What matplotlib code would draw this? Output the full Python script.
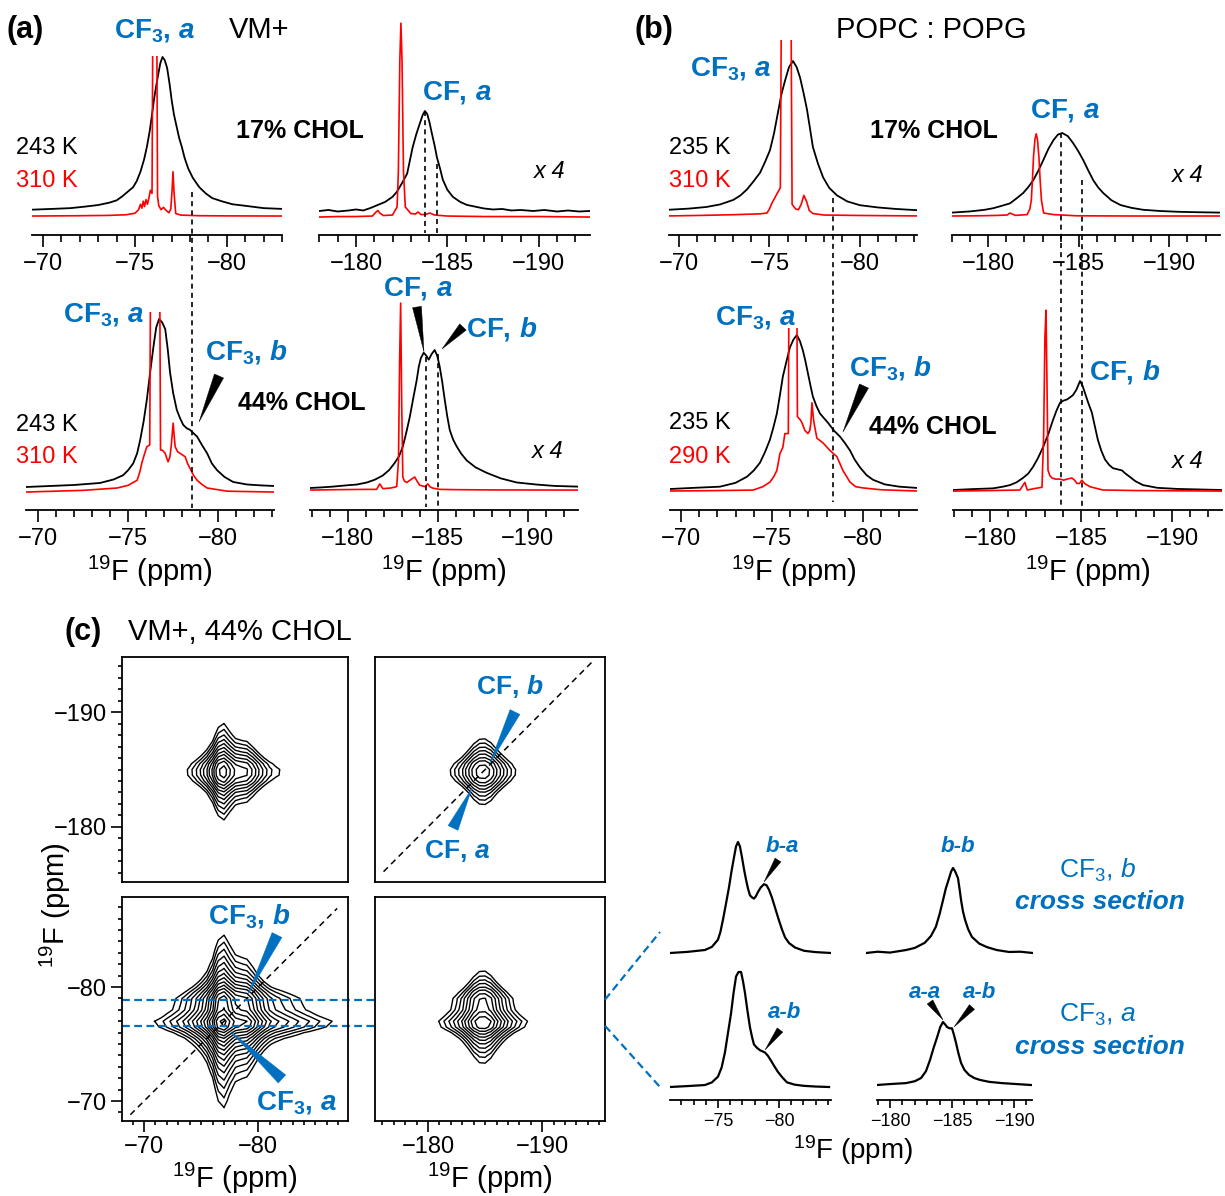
import numpy as np
import matplotlib
matplotlib.use("Agg")
import matplotlib.pyplot as plt
import matplotlib.transforms as mtransforms
from matplotlib.ticker import MultipleLocator, FixedLocator, NullLocator
from matplotlib.patches import Polygon

# ====================== DATA ======================
# ---- (a) VM+, 17% CHOL, CF3 region ----
a17_cf3_243K_ppm = [-69.4, -70.5, -71.5, -72.3, -73.0, -73.6, -74.0, -74.3, -74.6, -74.9, -75.1, -75.3, -75.5, -75.65,
                    -75.8, -75.92, -76.03, -76.15, -76.27, -76.38, -76.5, -76.62, -76.75, -76.88, -77.0, -77.12,
                    -77.25, -77.4, -77.55, -77.7, -77.9, -78.15, -78.5, -78.85, -79.2, -79.7, -80.3, -81.0, -82.0, -83.0]
a17_cf3_243K_int = [1.5, 2, 2.5, 3.5, 4.5, 6, 7.5, 10, 13, 16, 20, 26, 34, 42, 52, 62, 72, 81, 89, 96, 100, 98, 93, 83,
                    72, 63, 56, 48, 42, 35, 28, 22, 16, 12, 9, 7, 5, 4, 2.5, 2]
a17_cf3_310K_ppm = [-69.4, -72.0, -73.5, -74.5, -75.0, -75.2, -75.3, -75.38, -75.45, -75.52, -75.6, -75.68, -75.76,
                    -75.84, -75.93, -76.08, -76.23, -76.3, -76.42, -76.55, -76.7, -76.85, -76.95, -77.02, -77.07,
                    -77.13, -77.22, -77.5, -78.5, -80.0, -83.0]
a17_cf3_310K_int = [-2.6, -2.4, -2.2, -1.8, -0.8, 1.5, 5, 2.5, 7, 3.5, 8, 5, 9, 14, 12, 400, 10, 4, 1.5, 3, 1,
                    -0.5, 2, 14, 26, 12, -1, -2, -2.4, -2.5, -2.6]

# ---- (a) VM+, 17% CHOL, CF region (x4) ----
a17_cf_243K_ppm = [-178.0, -178.5, -179.0, -179.6, -180.0, -180.4, -180.8, -181.2, -181.6, -182.0, -182.24, -182.5,
                   -182.8, -183.1, -183.3, -183.5, -183.65, -183.77, -183.9, -184.02, -184.15, -184.3, -184.43,
                   -184.6, -184.75, -185.0, -185.3, -185.7, -186.07, -186.6, -187.0, -187.5, -188.0, -188.5, -189.0,
                   -189.7, -190.3, -191.0, -191.6, -192.2, -192.8]
a17_cf_243K_int = [1, 2, 0.5, 1.5, 2.5, 1.5, 4, 7, 10, 15, 20, 28, 38, 64, 77, 88, 96, 100, 97, 89, 78, 66, 54, 43,
                   32, 22, 15, 10, 7, 5, 3.5, 2.5, 3, 1.5, 2, 1, 2, 0.5, 1.5, 0.5, 1]
a17_cf_310K_ppm = [-178.0, -179.0, -180.0, -180.9, -181.1, -181.2, -181.3, -181.5, -182.0, -182.25, -182.32, -182.4,
                   -182.46, -182.52, -182.6, -182.7, -183.0, -183.25, -183.4, -183.55, -183.8, -184.04, -184.3,
                   -185.0, -187.0, -190.0, -192.8]
a17_cf_310K_int = [-5, -4.5, -4.5, -4, 0, 1.5, -1, -3.5, -3, 5, 40, 150, 187, 150, 40, 5, -1.5, -2, 0, -2.5, -2.5,
                   -1, -3, -4, -4.5, -4.5, -5]

# ---- (a) VM+, 44% CHOL, CF3 region ----
a44_cf3_243K_ppm = [-69.33, -70.67, -72.0, -73.44, -74.2, -74.72, -75.0, -75.28, -75.5, -75.67, -75.86, -76.04, -76.22,
                    -76.4, -76.56, -76.72, -76.89, -77.06, -77.2, -77.33, -77.5, -77.7, -77.88, -78.06, -78.25, -78.44,
                    -78.63, -78.83, -79.1, -79.39, -79.65, -79.94, -80.35, -80.83, -81.6, -82.3, -83.1]
a44_cf3_243K_int = [0, 0.6, 1.2, 2.4, 4.5, 7, 10, 14, 20, 28, 39, 52, 68, 83, 95, 100, 98, 94, 82, 68, 56, 46, 41, 37,
                    35, 34, 32, 30, 25, 20, 14, 10, 6, 3, 1.5, 1, 0.6]
a44_cf3_310K_ppm = [-69.33, -72.5, -74.39, -75.0, -75.5, -75.65, -75.78, -75.92, -76.04, -76.2, -76.5, -76.8, -76.89,
                    -76.98, -77.06, -77.15, -77.22, -77.32, -77.39, -77.5, -77.61, -77.75, -77.89, -78.03, -78.17,
                    -78.3, -78.44, -78.63, -78.83, -79.1, -79.39, -80.5, -83.1]
a44_cf3_310K_int = [-3, -2, -0.6, 1, 4, 9, 15, 20, 24, 25, 700, 22, 22, 21, 20, 17, 15, 18, 24, 38, 24, 21, 20, 19,
                    18, 14, 11, 7, 4, 1.5, -0.6, -2.5, -3]

# ---- (a) VM+, 44% CHOL, CF region (x4) ----
a44_cf_243K_ppm = [-177.9, -178.6, -179.17, -180.0, -180.5, -181.06, -181.5, -181.94, -182.3, -182.6, -182.85, -183.06,
                   -183.25, -183.44, -183.64, -183.83, -183.95, -184.06, -184.22, -184.36, -184.5, -184.66, -184.83,
                   -184.97, -185.11, -185.25, -185.39, -185.53, -185.67, -185.86, -186.06, -186.3, -186.61, -187.1,
                   -187.72, -188.5, -189.39, -190.5, -191.5, -192.8]
a44_cf_243K_int = [0, 0.5, 1, 2, 2.5, 4, 6, 9, 13, 18, 23, 30, 40, 51, 65, 78, 88, 94, 98, 96, 93, 97, 100, 96, 88,
                   77, 64, 52, 42, 35, 30, 25, 20, 15, 11, 7, 4, 2.5, 1.5, 1]
a44_cf_310K_ppm = [-177.9, -179.5, -181.0, -181.6, -181.78, -181.95, -182.4, -182.72, -182.82, -182.88, -182.94, -183.0,
                   -183.06, -183.15, -183.28, -183.5, -183.72, -183.85, -184.0, -184.3, -184.45, -184.56, -184.7,
                   -185.1, -186.0, -188.0, -192.8]
a44_cf_310K_int = [-1.5, -1.2, -1, -1, 3, -0.5, 0, 1, 20, 90, 134, 60, 8, 5, 4, 6, 8, 5, 2, 1, 3, 1, 0, -1, -1.2,
                   -1.4, -1.5]

# ---- (b) POPC:POPG, 17% CHOL, CF3 region ----
b17_cf3_235K_ppm = [-69.45, -70.5, -71.5, -72.27, -73.0, -73.4, -73.76, -74.1, -74.48, -74.75, -75.03, -75.25, -75.47,
                    -75.66, -75.86, -76.08, -76.3, -76.5, -76.69, -76.88, -77.07, -77.23, -77.4, -77.68, -77.96,
                    -78.3, -78.73, -79.3, -80.0, -81.0, -82.0, -83.15]
b17_cf3_235K_int = [1.5, 2.2, 3.3, 5, 8, 11, 15, 20, 26, 33, 41, 52, 66, 78, 87, 96, 100, 96, 89, 79, 68, 56, 43, 32,
                    23, 16, 11, 7, 4.5, 3, 2, 1.2]
b17_cf3_310K_ppm = [-69.45, -71.0, -73.0, -74.5, -74.86, -75.0, -75.14, -75.28, -75.41, -75.6, -75.93, -76.25, -76.45,
                    -76.6, -76.75, -76.9, -77.05, -77.2, -77.4, -78.0, -80.0, -83.15]
b17_cf3_310K_int = [-2.6, -2.3, -1.8, -1.2, -0.7, 2, 6, 9, 12, 16, 700, 5, 2, 1.5, 5, 11, 7, 1, -1, -2, -2.3, -2.6]

# ---- (b) POPC:POPG, 17% CHOL, CF region (x4) ----
b17_cf_235K_ppm = [-178.0, -179.0, -179.8, -180.28, -180.75, -181.2, -181.55, -181.93, -182.2, -182.49, -182.77,
                   -183.04, -183.32, -183.6, -183.85, -184.09, -184.4, -184.7, -184.98, -185.25, -185.53, -185.8,
                   -186.07, -186.35, -186.8, -187.3, -187.9, -188.56, -189.5, -190.5, -191.5, -192.8]
b17_cf_235K_int = [0.5, 2, 4, 6, 9, 12, 18, 25, 32, 41, 53, 66, 80, 91, 98, 100, 96, 87, 77, 66, 53, 41, 32, 25, 16,
                   10, 6.5, 4, 2.5, 1.5, 1, 0.5]
b17_cf_310K_ppm = [-178.0, -179.5, -180.5, -181.05, -181.2, -181.5, -182.15, -182.3, -182.38, -182.45, -182.5, -182.58,
                   -182.65, -182.72, -182.8, -182.87, -182.94, -183.06, -183.6, -184.9, -188.0, -192.8]
b17_cf_310K_int = [-3.75, -3.5, -3, -2.5, 0, -3, -2, 5, 16, 45, 70, 92, 99, 92, 70, 40, 16, 0, -2, -3.5, -3.75, -3.75]

# ---- (b) POPC:POPG, 44% CHOL, CF3 region ----
b44_cf3_235K_ppm = [-69.4, -70.8, -72.14, -73.0, -73.63, -74.0, -74.34, -74.62, -74.89, -75.08, -75.27, -75.44, -75.6,
                    -75.8, -75.99, -76.18, -76.37, -76.54, -76.7, -76.84, -76.98, -77.12, -77.25, -77.44, -77.64,
                    -77.86, -78.08, -78.4, -78.74, -79.0, -79.29, -79.55, -79.84, -80.2, -80.55, -81.2, -82.0, -82.97]
b44_cf3_235K_int = [0, 0.8, 1.5, 4, 8, 12, 17, 24, 32, 40, 49, 61, 73, 83, 92, 97, 100, 96, 90, 83, 75, 67, 60, 54,
                    49, 46, 43, 38, 34, 30, 25, 19, 14, 9, 6, 3, 1.5, 0.7]
b44_cf3_290K_ppm = [-69.4, -71.5, -73.96, -74.5, -74.89, -75.1, -75.27, -75.44, -75.6, -75.71, -75.9, -76.15, -76.4,
                    -76.55, -76.65, -76.81, -76.98, -77.08, -77.14, -77.2, -77.26, -77.31, -77.47, -77.8, -78.19,
                    -78.57, -78.9, -79.29, -79.6, -80.0, -81.0, -82.97]
b44_cf3_290K_int = [-1.3, -1.1, -0.7, 1.5, 4.5, 8, 12, 23, 27, 36, 36, 700, 47, 45, 43, 38, 36, 38, 43, 56, 48, 43,
                    33, 30, 25, 21, 12, 4.5, 1.5, 0.7, -0.5, -1.3]

# ---- (b) POPC:POPG, 44% CHOL, CF region (x4) ----
b44_cf_235K_ppm = [-177.97, -179.0, -180.16, -180.7, -181.1, -181.46, -181.81, -182.1, -182.36, -182.63, -182.91,
                   -183.2, -183.46, -183.66, -183.85, -184.04, -184.23, -184.4, -184.56, -184.75, -184.95, -185.08,
                   -185.22, -185.4, -185.6, -185.77, -185.93, -186.12, -186.32, -186.55, -186.76, -187.0, -187.25,
                   -187.45, -187.69, -188.0, -188.41, -189.2, -190.27, -191.5, -192.75]
b44_cf_235K_int = [0, 0.8, 1.5, 3, 4.5, 7, 11, 15, 21, 29, 39, 51, 64, 73, 80, 82, 83, 85, 87, 92, 100, 96, 89, 80,
                   71, 58, 46, 36, 28, 23, 20, 19, 18, 15, 12, 8, 4.5, 2, 1, 0.5, 0]
b44_cf_290K_ppm = [-177.97, -180.0, -181.65, -181.8, -181.92, -182.05, -182.5, -182.86, -182.95, -183.02, -183.08,
                   -183.14, -183.19, -183.3, -183.41, -183.6, -183.85, -184.05, -184.23, -184.5, -184.65, -184.78,
                   -184.92, -185.05, -185.2, -185.5, -186.2, -188.0, -192.75]
b44_cf_290K_int = [-1, -0.5, 0, 4, 7, 0, 1.5, 2.5, 50, 140, 165, 90, 18, 13, 11, 10, 10, 9, 10, 11, 9, 6, 6, 9, 6, 3,
                   0, -0.5, -1]

# ---- dashed guide positions (ppm) ----
a_cf3b_line = -78.55
a17_cf_lines = [(-183.8, 100), (-184.45, 48)]
a44_cf_lines = [(-184.33, 95), (-185.0, 97)]
b_cf3b_line = -78.35
b_cf_lines = [-183.9, -185.05]

# ---- (c) 2D exchange map: 1D profiles used for the planes ----
cf3_grid = [-68.0 - 0.5 * i for i in range(41)]
cf_grid = [-175.0 - 0.5 * i for i in range(41)]
cf3_profile_f2 = [1.0, 1.1, 1.2, 1.3, 1.4, 1.55, 1.7, 2.0, 2.5, 3.1, 3.9, 5.0, 6.8, 9.5, 14, 22, 40, 80, 96, 66, 46,
                  42, 39, 28, 18, 12, 8.5, 6.8, 5.8, 5.0, 4.3, 3.7, 3.2, 2.8, 2.4, 2.1, 1.85, 1.65, 1.45, 1.3, 1.2]
cf3_profile_f1 = [1.2, 1.35, 1.5, 1.7, 2.0, 2.3, 2.7, 3.2, 3.9, 4.8, 6.0, 7.7, 10, 14, 20, 30, 50, 85, 96, 70, 52,
                  48, 45, 32, 20, 13, 9, 6.6, 5.1, 4.0, 3.2, 2.6, 2.1, 1.7, 1.4, 1.2, 1.0, 0.9, 0.8, 0.7, 0.65]
cf_profile = [0.8, 0.9, 1.0, 1.2, 1.4, 1.7, 2.0, 2.4, 3.0, 3.7, 4.6, 5.8, 7.5, 10, 13.5, 19, 28, 45, 72, 96, 98, 78,
              50, 32, 21, 14.5, 10.5, 8, 6.2, 5, 4.1, 3.4, 2.9, 2.5, 2.1, 1.8, 1.6, 1.4, 1.2, 1.1, 1.0]
plane_amp = {"cf_cf3": 0.27, "cf_cf": 0.124, "cf3_cf3": 1.0, "cf3_cf": 0.23}
diag_cf3 = [-68.8, -86.9]
diag_cf = [-176.1, -194.5]
slice_rows = [-78.9, -76.6]   # CF3 b and CF3 a cross-section rows

# ---- (c) cross sections ----
xs_b_cf3_ppm = [-71.07, -72.5, -73.93, -74.5, -75.0, -75.2, -75.41, -75.65, -75.9, -76.1, -76.31, -76.48, -76.64,
                -76.8, -76.97, -77.14, -77.3, -77.46, -77.62, -77.8, -77.95, -78.1, -78.28, -78.5, -78.77, -78.98,
                -79.18, -79.42, -79.67, -79.95, -80.25, -80.5, -80.82, -81.3, -82.05, -83.0, -84.26]
xs_b_cf3_int = [0, 1, 2.7, 5.5, 12, 19, 30, 44, 59, 73, 86, 96, 100, 96, 86, 75, 66, 58, 52, 50, 49, 51, 55, 59, 62,
                61, 57, 50, 41, 31, 21, 14, 9, 5, 2, 0.8, 0]
xs_b_cf_ppm = [-178.06, -179.0, -180.0, -181.29, -182.0, -182.8, -183.3, -183.7, -184.0, -184.27, -184.5, -184.76,
               -184.93, -185.08, -185.25, -185.48, -185.6, -185.73, -185.88, -186.05, -186.3, -186.6, -187.2, -187.8,
               -188.6, -189.6, -190.5, -191.53]
xs_b_cf_int = [0, 1.5, 0.5, 3.5, 6, 12, 20, 31, 46, 62, 76, 88, 96, 100, 96, 88, 76, 62, 49, 39, 28, 19, 11, 7, 3.5,
               1.2, 1.5, 0]
xs_a_cf3_ppm = [-71.07, -72.5, -73.93, -74.5, -75.0, -75.3, -75.57, -75.82, -76.07, -76.28, -76.48, -76.68, -76.89,
                -77.05, -77.21, -77.42, -77.62, -77.8, -77.95, -78.2, -78.44, -78.65, -78.85, -79.1, -79.34, -79.62,
                -79.92, -80.3, -80.66, -81.3, -82.05, -83.0, -84.1]
xs_a_cf3_int = [0, 0.8, 1.7, 4, 9, 17, 30, 47, 64, 82, 96, 100, 100, 92, 82, 66, 52, 43, 37, 34, 32, 31, 30, 27, 23,
                18, 13, 8, 4, 2, 1, 0.4, 0]
xs_a_cf_ppm = [-178.95, -180.0, -181.29, -182.0, -182.5, -182.9, -183.23, -183.5, -183.8, -184.05, -184.27, -184.45,
               -184.6, -184.8, -185.0, -185.15, -185.32, -185.52, -185.73, -186.0, -186.37, -186.8, -187.26, -188.0,
               -189.03, -190.2, -191.37]
xs_a_cf_int = [0, 1.5, 3, 6, 11, 22, 40, 58, 76, 92, 100, 96, 92, 90, 90, 80, 67, 50, 35, 24, 16, 11, 8, 5, 3, 1.5, 0]

# ====================== STYLE ======================
plt.rcParams.update({
    "font.family": ["Liberation Sans", "DejaVu Sans"],
    "mathtext.fontset": "custom",
    "mathtext.rm": "Liberation Sans",
    "mathtext.it": "Liberation Sans:italic",
    "mathtext.bf": "Liberation Sans:bold",
    "mathtext.bfit": "Liberation Sans:italic:bold",
    "mathtext.sf": "Liberation Sans",
    "axes.unicode_minus": True,
})
BLUE = "#0070C0"
RED = "#FF0000"
F19 = r"$\mathregular{^{19}}$F (ppm)"
CF3a = r"$\mathbf{CF_{3},}\,\mathbfit{a}$"
CF3b = r"$\mathbf{CF_{3},}\,\mathbfit{b}$"
CFa = r"$\mathbf{CF,}\,\mathbfit{a}$"
CFb = r"$\mathbf{CF,}\,\mathbfit{b}$"

W, H = 1225, 1196
fig = plt.figure(figsize=(W / 100, H / 100), dpi=100)


def fx(x):
    return x / W


def fy(y):
    return 1 - y / H


def add_ax(x0, x1, top, bot):
    return fig.add_axes([fx(x0), fy(bot), (x1 - x0) / W, (bot - top) / H])


def txt(x, y, s, size, color="k", weight="normal", style="normal", ha="center", va="center", **kw):
    fig.text(fx(x), fy(y), s, fontsize=size, color=color, fontweight=weight, fontstyle=style,
             ha=ha, va=va, **kw)


def wedge(tip, thick, hw, color):
    tx, ty = tip
    bx, by = thick
    dx, dy = bx - tx, by - ty
    L = np.hypot(dx, dy)
    nx, ny = -dy / L * hw, dx / L * hw
    pts = [(tx, ty), (bx + nx, by + ny), (bx - nx, by - ny)]
    fig.add_artist(Polygon([(fx(a), fy(b)) for a, b in pts], closed=True, transform=fig.transFigure,
                           facecolor=color, edgecolor=color, lw=0.3))


def spec_ax(x0, x1, top, bot, xlim, base, peak, spine=True, major=8.5, minor=5, lsize=17, pad=4.5):
    ax = add_ax(x0, x1, top, bot)
    k = (base - peak) / 100.0
    ax.set_xlim(*xlim)
    ax.set_ylim((base - bot) / k, (base - top) / k)
    for s in ["left", "right", "top"]:
        ax.spines[s].set_visible(False)
    ax.patch.set_visible(False)
    ax.yaxis.set_major_locator(NullLocator())
    if spine:
        ax.spines["bottom"].set_linewidth(1.3)
        ax.xaxis.set_major_locator(MultipleLocator(5))
        ax.xaxis.set_minor_locator(MultipleLocator(1))
        ax.tick_params(axis="x", which="major", length=major, width=1.2, labelsize=lsize, pad=pad,
                       direction="out")
        ax.tick_params(axis="x", which="minor", length=minor, width=1.2, direction="out")
    else:
        ax.spines["bottom"].set_visible(False)
        ax.xaxis.set_major_locator(NullLocator())
    return ax


DASH = (0, (3, 2.5))


def vdash(ax, x, y0, y1):
    ax.plot([x, x], [y0, y1], ls=DASH, color="k", lw=1.2, clip_on=False)


def vdash_fig(ax, x, ytop, ybot):
    tr = mtransforms.blended_transform_factory(ax.transData, fig.transFigure)
    ax.plot([x, x], [fy(ytop), fy(ybot)], transform=tr, ls=DASH, color="k", lw=1.2, clip_on=False)


# ====================== PANEL (a) ======================
axA1 = spec_ax(32, 282, 56, 235, (-69.4, -83.0), 212, 57)
axA1.plot(a17_cf3_243K_ppm, a17_cf3_243K_int, color="k", lw=1.3)
axA1.plot(a17_cf3_310K_ppm, a17_cf3_310K_int, color=RED, lw=1.2)

axA2 = spec_ax(319, 590, 20, 235, (-177.98, -192.8), 212, 111)
axA2.plot(a17_cf_243K_ppm, a17_cf_243K_int, color="k", lw=1.3)
axA2.plot(a17_cf_310K_ppm, a17_cf_310K_int, color=RED, lw=1.2)
for x, y in a17_cf_lines:
    vdash(axA2, x, y, axA2.get_ylim()[0] + 2)

axA3 = spec_ax(26, 274, 312, 510, (-69.33, -83.1), 487, 319)
axA3.plot(a44_cf3_243K_ppm, a44_cf3_243K_int, color="k", lw=1.3)
axA3.plot(a44_cf3_310K_ppm, a44_cf3_310K_int, color=RED, lw=1.2)
axA3.set_xlabel(F19, fontsize=21, labelpad=3)
vdash_fig(axA3, a_cf3b_line, 192, 508)

axA4 = spec_ax(310, 578, 300, 510, (-177.9, -192.8), 488, 350)
axA4.plot(a44_cf_243K_ppm, a44_cf_243K_int, color="k", lw=1.3)
axA4.plot(a44_cf_310K_ppm, a44_cf_310K_int, color=RED, lw=1.2)
axA4.set_xlabel(F19, fontsize=21, labelpad=3)
for x, y in a44_cf_lines:
    vdash(axA4, x, y, axA4.get_ylim()[0] + 2)

# ====================== PANEL (b) ======================
axB1 = spec_ax(669, 917, 40, 235, (-69.45, -83.15), 212, 61)
axB1.plot(b17_cf3_235K_ppm, b17_cf3_235K_int, color="k", lw=1.3)
axB1.plot(b17_cf3_310K_ppm, b17_cf3_310K_int, color=RED, lw=1.2)

axB2 = spec_ax(952, 1220, 120, 235, (-178.0, -192.8), 213, 133)
axB2.plot(b17_cf_235K_ppm, b17_cf_235K_int, color="k", lw=1.3)
axB2.plot(b17_cf_310K_ppm, b17_cf_310K_int, color=RED, lw=1.2)

axB3 = spec_ax(670, 917, 328, 510, (-69.4, -82.97), 489, 335)
axB3.plot(b44_cf3_235K_ppm, b44_cf3_235K_int, color="k", lw=1.3)
axB3.plot(b44_cf3_290K_ppm, b44_cf3_290K_int, color=RED, lw=1.2)
axB3.set_xlabel(F19, fontsize=21, labelpad=3)
vdash_fig(axB3, b_cf3b_line, 198, 502)

axB4 = spec_ax(953, 1222, 300, 510, (-177.97, -192.75), 490, 381)
axB4.plot(b44_cf_235K_ppm, b44_cf_235K_int, color="k", lw=1.3)
axB4.plot(b44_cf_290K_ppm, b44_cf_290K_int, color=RED, lw=1.2)
axB4.set_xlabel(F19, fontsize=21, labelpad=3)
vdash_fig(axB4, b_cf_lines[0], 133, 507)
vdash_fig(axB4, b_cf_lines[1], 180, 507)

# ---- texts (a) ----
txt(25, 30, "(a)", 22, weight="bold")
txt(155, 30, CF3a, 20, color=BLUE)
txt(259, 30, "VM+", 21)
txt(47, 148, "243 K", 17)
txt(47, 181, "310 K", 17, color=RED)
txt(300, 131, "17% CHOL", 18, weight="bold")
txt(457, 93, CFa, 20, color=BLUE)
txt(550, 172, "x 4", 17, style="italic")
txt(104, 315, CF3a, 20, color=BLUE)
txt(247, 352, CF3b, 20, color=BLUE)
txt(47, 425, "243 K", 17)
txt(47, 457, "310 K", 17, color=RED)
txt(302, 403, "44% CHOL", 18, weight="bold")
txt(418, 289, CFa, 20, color=BLUE)
txt(502, 329, CFb, 20, color=BLUE)
txt(548, 451, "x 4", 17, style="italic")
wedge((199, 422), (219, 376), 5, "k")
wedge((424, 352), (417, 307), 4.5, "k")
wedge((442, 349), (463, 327), 4.5, "k")

# ---- texts (b) ----
txt(654, 30, "(b)", 22, weight="bold")
txt(931, 30, "POPC : POPG", 21)
txt(731, 68, CF3a, 20, color=BLUE)
txt(700, 148, "235 K", 17)
txt(700, 181, "310 K", 17, color=RED)
txt(934, 131, "17% CHOL", 18, weight="bold")
txt(1065, 111, CFa, 20, color=BLUE)
txt(1188, 176, "x 4", 17, style="italic")
txt(756, 318, CF3a, 20, color=BLUE)
txt(891, 368, CF3b, 20, color=BLUE)
txt(700, 423, "235 K", 17)
txt(700, 457, "290 K", 17, color=RED)
txt(933, 427, "44% CHOL", 18, weight="bold")
txt(1125, 372, CFb, 20, color=BLUE)
txt(1188, 461, "x 4", 17, style="italic")
wedge((843, 432), (864, 386), 5, "k")

# ====================== PANEL (c) ======================
txt(83, 632, "(c)", 22, weight="bold")
txt(128, 632, "VM+, 44% CHOL", 21, ha="left")

cf3_g = np.array(cf3_grid)
cf_g = np.array(cf_grid)
p_cf3_f2 = np.array(cf3_profile_f2) / 100.0
p_cf3_f1 = np.array(cf3_profile_f1) / 100.0
p_cf = np.array(cf_profile) / 100.0
levels = 0.016 * 1.3 ** np.arange(17)

axTL = add_ax(122, 348, 657, 882)
axBL = add_ax(122, 348, 897, 1121)
axTR = add_ax(375, 605, 657, 882)
axBR = add_ax(375, 605, 897, 1121)
for ax in (axTL, axBL, axTR, axBR):
    for s in ax.spines.values():
        s.set_linewidth(1.3)
    ax.tick_params(which="both", direction="out", width=1.2, labelsize=17, pad=3)
    ax.tick_params(which="major", length=8)
    ax.tick_params(which="minor", length=3)

axTL.set_xlim(-68.07, -87.85)
axTL.set_ylim(-175.2, -194.8)
axBL.set_xlim(-68.07, -87.85)
axBL.set_ylim(-68.25, -87.9)
axTR.set_xlim(-175.35, -195.5)
axTR.set_ylim(-175.2, -194.8)
axBR.set_xlim(-175.35, -195.5)
axBR.set_ylim(-68.25, -87.9)

axTL.contour(cf3_g, cf_g, plane_amp["cf_cf3"] * np.outer(p_cf, p_cf3_f2), levels=levels, colors="k",
             linewidths=1.0)
axTR.contour(cf_g, cf_g, plane_amp["cf_cf"] * np.outer(p_cf, p_cf), levels=levels, colors="k", linewidths=1.0)
axBL.contour(cf3_g, cf3_g, plane_amp["cf3_cf3"] * np.outer(p_cf3_f1, p_cf3_f2), levels=levels, colors="k",
             linewidths=1.0)
axBR.contour(cf_g, cf3_g, plane_amp["cf3_cf"] * np.outer(p_cf3_f1, p_cf), levels=levels, colors="k",
             linewidths=1.0)

axBL.plot(diag_cf3, diag_cf3, ls=(0, (4, 3)), color="k", lw=1.1)
axTR.plot(diag_cf, diag_cf, ls=(0, (4, 3)), color="k", lw=1.1)

# ticks
axTL.xaxis.set_major_locator(NullLocator())
axTL.yaxis.set_major_locator(FixedLocator([-190, -180]))
axTL.yaxis.set_minor_locator(MultipleLocator(1))
axTR.xaxis.set_major_locator(NullLocator())
axTR.yaxis.set_major_locator(NullLocator())
axBL.xaxis.set_major_locator(FixedLocator([-70, -80]))
axBL.xaxis.set_minor_locator(MultipleLocator(1))
axBL.yaxis.set_major_locator(FixedLocator([-80, -70]))
axBL.yaxis.set_minor_locator(MultipleLocator(1))
axBR.xaxis.set_major_locator(FixedLocator([-180, -190]))
axBR.xaxis.set_minor_locator(MultipleLocator(1))
axBR.yaxis.set_major_locator(NullLocator())
axBL.set_xlabel(F19, fontsize=21, labelpad=2)
axBR.set_xlabel(F19, fontsize=21, labelpad=2)
txt(55, 905, F19, 21, rotation=90)

# blue slice lines
trBL = mtransforms.blended_transform_factory(fig.transFigure, axBL.transData)
for yv in slice_rows:
    axBL.plot([fx(122), fx(605)], [yv, yv], transform=trBL, ls=(0, (3.5, 2)), color=BLUE, lw=1.6,
              clip_on=False)
fig.add_artist(plt.Line2D([fx(605), fx(660)], [fy(999.6), fy(932)], transform=fig.transFigure,
                          ls=(0, (3.5, 2)), color=BLUE, lw=1.6))
fig.add_artist(plt.Line2D([fx(605), fx(660)], [fy(1025.8), fy(1087)], transform=fig.transFigure,
                          ls=(0, (3.5, 2)), color=BLUE, lw=1.6))

# labels on 2D planes
txt(510, 687, CFb, 19, color=BLUE)
txt(457, 851, CFa, 19, color=BLUE)
txt(250, 916, CF3b, 20, color=BLUE)
txt(297, 1102, CF3a, 20, color=BLUE)
wedge((490, 763), (515, 712), 5.5, BLUE)
wedge((472, 788), (453, 828), 5.5, BLUE)
wedge((248, 994), (277, 935), 5.5, BLUE)
wedge((230, 1031), (282, 1079), 5.5, BLUE)

# ---- cross sections ----
axX1 = spec_ax(670, 831, 830, 960, (-71.07, -84.26), 953, 842, spine=False)
axX1.plot(xs_b_cf3_ppm, xs_b_cf3_int, color="k", lw=1.6)
axX2 = spec_ax(866, 1033, 830, 960, (-178.06, -191.53), 953, 868, spine=False)
axX2.plot(xs_b_cf_ppm, xs_b_cf_int, color="k", lw=1.6)
axX3 = spec_ax(670, 831, 960, 1100, (-71.07, -84.26), 1087, 972, major=6, minor=3.5, lsize=13, pad=3)
axX3.plot(xs_a_cf3_ppm, xs_a_cf3_int, color="k", lw=1.6)
axX4 = spec_ax(877, 1032, 960, 1100, (-178.95, -191.45), 1085, 1022, major=6, minor=3.5, lsize=13, pad=3)
axX4.plot(xs_a_cf_ppm, xs_a_cf_int, color="k", lw=1.6)
txt(853, 1150, F19, 20)

txt(782, 847, "b-a", 16, color=BLUE, weight="bold", style="italic")
txt(958, 847, "b-b", 16, color=BLUE, weight="bold", style="italic")
txt(785, 1013, "a-b", 16, color=BLUE, weight="bold", style="italic")
txt(925, 992, "a-a", 16, color=BLUE, weight="bold", style="italic")
txt(980, 992, "a-b", 16, color=BLUE, weight="bold", style="italic")
wedge((764, 882), (778, 860), 3.5, "k")
wedge((765, 1050), (780, 1030), 3.5, "k")
wedge((943, 1020), (930, 1002), 3.5, "k")
wedge((954, 1027), (972, 1007), 3.5, "k")
txt(1097, 870, r"CF$_{3}$, $\mathit{b}$", 19, color=BLUE)
txt(1100, 902, "cross section", 19, color=BLUE, weight="bold", style="italic")
txt(1097, 1015, r"CF$_{3}$, $\mathit{a}$", 19, color=BLUE)
txt(1100, 1047, "cross section", 19, color=BLUE, weight="bold", style="italic")

fig.savefig("out.png", dpi=100)
